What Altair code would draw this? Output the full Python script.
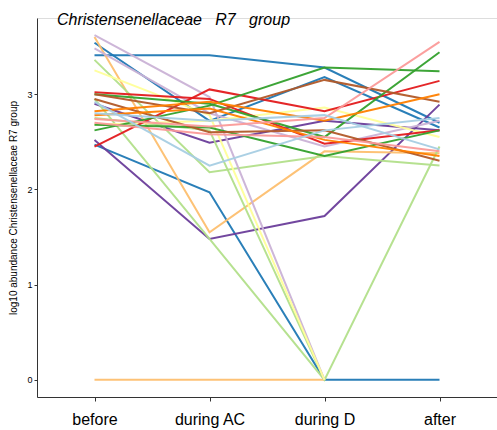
import altair as alt
import pandas as pd

timepoints = ["before", "during AC", "during D", "after"]

subjects = [f"S{i:02d}" for i in range(1, 28)]
colors = [
    "#1f78b4", "#1f78b4", "#1f78b4", "#6a3d9a", "#6a3d9a", "#fdbf6f", "#fdbf6f",
    "#b2df8a", "#b2df8a", "#b2df8a", "#cab2d6", "#cab2d6", "#ffff99", "#ffff99",
    "#e31a1c", "#e31a1c", "#33a02c", "#33a02c", "#33a02c", "#b15928", "#b15928",
    "#ff7f00", "#ff7f00", "#fb9a99", "#fb9a99", "#a6cee3", "#a6cee3",
]
before = [3.41, 3.54, 2.47, 2.52, 2.90, 3.60, 0.00, 3.36, 2.95, 2.75, 3.62, 3.48, 3.25, 2.68,
          2.45, 3.02, 2.62, 3.00, 2.68, 3.00, 2.95, 2.82, 2.78, 2.74, 2.70, 2.92, 2.80]
during_ac = [3.41, 2.72, 1.97, 1.48, 2.49, 1.55, 0.00, 2.18, 1.48, 2.62, 2.97, 2.80, 2.78, 2.72,
             3.05, 2.95, 2.88, 2.90, 2.65, 2.80, 2.60, 2.92, 2.85, 2.66, 2.58, 2.25, 2.72]
during_d = [3.28, 3.18, 0.00, 1.72, 2.72, 2.40, 0.00, 2.35, 0.00, 0.00, 0.00, 2.45, 0.00, 2.86,
            2.82, 2.48, 3.28, 2.55, 2.35, 3.15, 2.62, 2.72, 2.52, 2.75, 2.55, 2.62, 2.78]
after = [2.70, 2.65, 0.00, 2.89, 2.62, 2.38, None, 2.25, 2.45, None, None, 2.72, None, 2.55,
         3.14, 2.62, 3.24, 3.44, 2.62, 2.92, 2.30, 3.00, 2.35, 3.55, 2.40, 2.75, 2.42]

rows = []
for i, s in enumerate(subjects):
    for t, (tp, vals) in enumerate(zip(timepoints, [before, during_ac, during_d, after])):
        v = vals[i]
        if v is not None:
            rows.append({"subject": s, "time": tp, "order": t, "value": v})
df = pd.DataFrame(rows)

lines = alt.Chart(df).mark_line(strokeWidth=2, opacity=0.95).encode(
    x=alt.X("time:N", sort=timepoints,
            scale=alt.Scale(domain=timepoints, paddingOuter=0.6),
            axis=alt.Axis(title=None, labelAngle=0, labelFontSize=16, labelColor="black",
                          labelFont="Liberation Sans", tickColor="#333", domainColor="#333",
                          tickSize=4, labelPadding=10, grid=False)),
    y=alt.Y("value:Q", scale=alt.Scale(domain=[-0.18, 3.8], nice=False, zero=False),
            axis=alt.Axis(title="log10 abundance Christensenellaceae R7 group",
                          titleFontSize=10, titleFontWeight="normal", titleColor="black",
                          titleFont="Liberation Sans", values=[0, 1, 2, 3], format="d",
                          labelFontSize=9, labelColor="black", labelFont="Liberation Sans",
                          tickColor="#333", domainColor="#333", tickSize=3, grid=False,
                          titlePadding=8)),
    color=alt.Color("subject:N", scale=alt.Scale(domain=subjects, range=colors), legend=None),
    detail="subject:N",
    order=alt.Order("order:Q"),
)

nb = "\u00a0"
title_text = f"Christensenellaceae{nb*3}R7{nb*3}group"
title = alt.Chart(pd.DataFrame({"t": [title_text]})).mark_text(
    align="left", baseline="middle", fontSize=16, fontStyle="italic",
    font="Liberation Sans", color="black"
).encode(x=alt.value(20), y=alt.value(2), text="t:N")

chart = alt.layer(lines, title).properties(
    width=460, height=379,
    padding={"left": 37, "top": 18, "right": 0, "bottom": 33},
    autosize=alt.AutoSizeParams(type="none"),
).configure_view(stroke=None).configure(background="white")

chart.save("out.html", embed_options={"renderer": "svg", "actions": False})
